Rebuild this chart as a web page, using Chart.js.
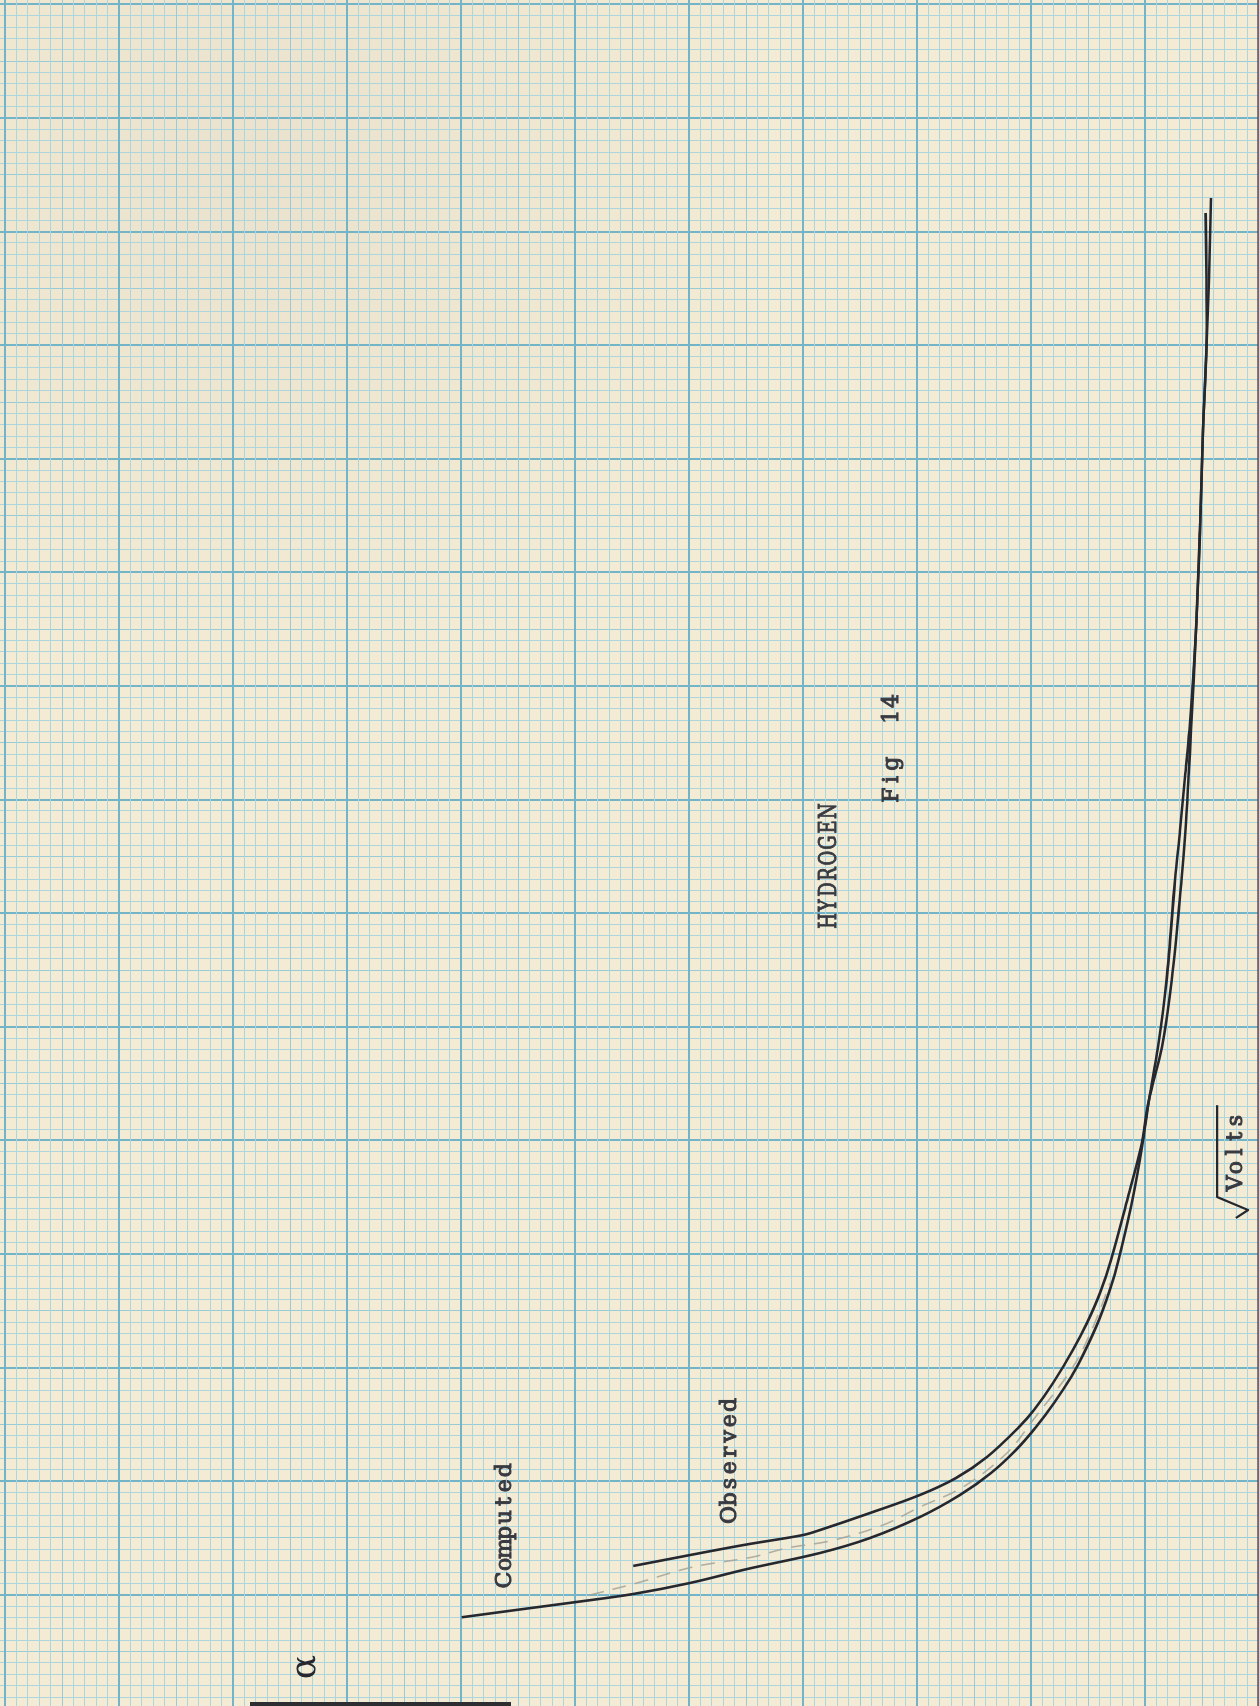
<!DOCTYPE html>
<html>
<head>
<meta charset="utf-8">
<script src="https://cdn.jsdelivr.net/npm/chart.js@4"></script>
<style>
  html, body { margin: 0; padding: 0; width: 1259px; height: 1706px; overflow: hidden; background: #f4ebd4; }
  /* the sheet is drawn landscape and turned a quarter turn, as it was typed */
  #sheet {
    position: absolute; left: 0; top: 0;
    width: 1706px; height: 1259px;
    transform-origin: 0 0;
    transform: translateY(1706px) rotate(-90deg);
  }
  canvas { display: block; }
</style>
</head>
<body>
<div id="sheet"><canvas id="chart" width="1706" height="1259"></canvas></div>
<script>
// Hydrogen: alpha against square root of volts (graph-paper units, 10 small squares per heavy line)

// Computed curve
const computedVolts = [8.02, 8.71, 9.37, 10.07, 11.04, 12.27, 13.68, 15.0, 16.85, 18.79, 20.72, 22.75,
  24.77, 26.88, 29.17, 31.29, 34.19, 37.71, 40.35, 45.02, 49.42, 53.56, 58.22, 64.12, 72.92, 77.32,
  81.99, 86.13, 94.93, 103.73, 112.54, 119.84, 125.74, 131.64];
const computedAlpha = [69.94, 64.82, 59.85, 54.89, 49.91, 44.89, 38.51, 34.12, 29.74, 26.23, 23.51, 21.32,
  19.56, 17.98, 16.49, 15.35, 14.04, 12.81, 12.11, 11.05, 10.26, 9.65, 8.86, 8.10, 7.37, 6.93,
  6.49, 6.10, 5.53, 5.18, 4.91, 4.61, 4.61, 4.68];

// Observed curve
const observedVolts = [12.54, 13.50, 14.43, 15.26, 15.70, 17.20, 18.79, 20.28, 22.13, 24.77, 26.27, 28.64,
  31.55, 33.93, 36.57, 39.47, 45.02, 49.42, 53.56, 58.22, 64.12, 72.92, 77.32, 81.99, 86.13, 94.93,
  103.73, 112.54, 119.84, 125.74, 132.96];
const observedAlpha = [54.89, 49.91, 44.94, 40.0, 38.51, 34.12, 29.74, 26.58, 23.86, 21.05, 19.74, 18.07,
  16.32, 15.09, 13.95, 12.98, 11.49, 10.35, 9.65, 8.51, 7.66, 6.80, 6.45, 6.18, 5.96, 5.53,
  5.18, 4.91, 4.61, 4.39, 4.21];

// Faint pencilled curve between the two
const pencilVolts = [9.98, 11.04, 12.45, 13.33, 14.12, 14.74, 16.14, 17.73, 19.49, 22.48, 25.39, 30.05, 33.57, 37.45];
const pencilAlpha = [58.68, 54.56, 49.65, 44.39, 41.40, 37.63, 32.98, 29.74, 25.96, 22.11, 19.82, 16.32, 14.56, 13.07];

// Paper extent, in small squares
const voltsRange = [0.21, 150.39];
const alphaRange = [0, 110.44];

// Typed notes (anchored in chart units)
const notes = [
  { text: 'Computed', x: 16.14, y: 66.3,  size: 22, squeeze: 1 },
  { text: 'Observed', x: 21.87, y: 46.6,  size: 22, squeeze: 1 },
  { text: 'HYDROGEN', x: 74.15, y: 37.9,  size: 25, squeeze: 0.72 },
  { text: 'Fig  14',  x: 84.54, y: 32.37, size: 22, squeeze: 1 },
  { text: 'Volts',    x: 48.98, y: 2.2,   size: 22, squeeze: 1 }
];
const TYPE_PITCH = 15.7;

const toPoints = (xs, ys) => xs.map((v, i) => ({ x: v, y: ys[i] }));

const INK = '#26282f';
const TYPE = '#383a42';

function gridColor(ctx) {
  const v = ctx.tick ? ctx.tick.value : 0;
  if (Math.abs(v - Math.round(v)) > 1e-6) return 'rgba(0,0,0,0)';
  const r = Math.round(v);
  if (r % 10 === 0) return '#74b4c9';
  if (r % 5 === 0) return '#98cbd8';
  return '#acd5de';
}
function gridWidth(ctx) {
  const v = ctx.tick ? Math.round(ctx.tick.value) : 0;
  if (v % 10 === 0) return 2;
  return 1;
}

// typewriter-style text: one glyph per fixed-pitch cell
function typeText(ctx, note, cx, cy) {
  const chars = Array.from(note.text);
  const start = cx - chars.length * TYPE_PITCH / 2;
  ctx.font = note.size + 'px "DejaVu Serif", "Liberation Serif", serif';
  ctx.textAlign = 'center';
  ctx.textBaseline = 'alphabetic';
  chars.forEach((ch, i) => {
    if (ch === ' ') return;
    const px = start + (i + 0.5) * TYPE_PITCH;
    ctx.save();
    ctx.translate(px, cy + note.size * 0.36);
    ctx.scale(note.squeeze, 1);
    ctx.fillText(ch, 0, 0);
    ctx.strokeText(ch, 0, 0);
    ctx.restore();
  });
}

const paper = {
  id: 'paper',
  beforeDraw(chart) {
    const { ctx, width, height } = chart;
    ctx.save();
    ctx.fillStyle = '#f4ebd4';
    ctx.fillRect(0, 0, width, height);
    const g = ctx.createRadialGradient(1540, 260, 20, 1540, 260, 520);
    g.addColorStop(0, 'rgba(150,150,140,0.10)');
    g.addColorStop(1, 'rgba(150,150,140,0)');
    ctx.fillStyle = g;
    ctx.fillRect(0, 0, width, height);
    ctx.restore();
  },
  afterDraw(chart) {
    const { ctx, width } = chart;
    const xs = chart.scales.x, ys = chart.scales.y;
    ctx.save();
    // sheet edges
    ctx.fillStyle = 'rgba(80,80,85,0.7)';
    ctx.fillRect(0, 1257, width, 2);
    ctx.fillStyle = '#2e2e32';
    ctx.fillRect(0, 250, 4, 261);

    // typed notes
    ctx.fillStyle = TYPE;
    ctx.strokeStyle = TYPE;
    ctx.lineWidth = 1;
    notes.forEach(n => typeText(ctx, n, xs.getPixelForValue(n.x), ys.getPixelForValue(n.y)));

    // radical sign over "Volts"
    ctx.strokeStyle = INK;
    ctx.lineWidth = 2.2;
    ctx.lineJoin = 'round';
    ctx.beginPath();
    ctx.moveTo(xs.getPixelForValue(53.1), ys.getPixelForValue(3.68));
    ctx.lineTo(xs.getPixelForValue(45.02), ys.getPixelForValue(3.68));
    ctx.lineTo(xs.getPixelForValue(43.87), ys.getPixelForValue(0.96));
    ctx.lineTo(xs.getPixelForValue(43.17), ys.getPixelForValue(2.02));
    ctx.stroke();

    // hand-written alpha
    ctx.fillStyle = INK;
    ctx.font = '36px "DejaVu Serif", serif';
    ctx.textAlign = 'center';
    ctx.textBaseline = 'middle';
    ctx.fillText('\u03B1', xs.getPixelForValue(3.64), ys.getPixelForValue(83.6));
    ctx.restore();
  }
};

new Chart(document.getElementById('chart'), {
  type: 'scatter',
  data: {
    datasets: [
      {
        label: 'Pencil',
        data: toPoints(pencilVolts, pencilAlpha),
        showLine: true,
        borderColor: 'rgba(160,160,150,0.8)',
        borderWidth: 1.6,
        borderDash: [14, 9],
        pointRadius: 0,
        tension: 0.35
      },
      {
        label: 'Computed',
        data: toPoints(computedVolts, computedAlpha),
        showLine: true,
        borderColor: INK,
        borderWidth: 2.6,
        pointRadius: 0,
        tension: 0.35
      },
      {
        label: 'Observed',
        data: toPoints(observedVolts, observedAlpha),
        showLine: true,
        borderColor: INK,
        borderWidth: 2.6,
        pointRadius: 0,
        tension: 0.35
      }
    ]
  },
  options: {
    responsive: false,
    devicePixelRatio: 1,
    animation: false,
    layout: { padding: 0 },
    plugins: { legend: { display: false }, tooltip: { enabled: false } },
    scales: {
      x: {
        type: 'linear',
        min: voltsRange[0], max: voltsRange[1],
        border: { display: false },
        ticks: { display: false, stepSize: 1, maxTicksLimit: 1000, includeBounds: false },
        grid: { drawTicks: false, color: gridColor, lineWidth: gridWidth }
      },
      y: {
        type: 'linear',
        min: alphaRange[0], max: alphaRange[1],
        border: { display: false },
        ticks: { display: false, stepSize: 1, maxTicksLimit: 1000, includeBounds: false },
        grid: { drawTicks: false, color: gridColor, lineWidth: gridWidth }
      }
    }
  },
  plugins: [paper]
});
</script>
</body>
</html>
